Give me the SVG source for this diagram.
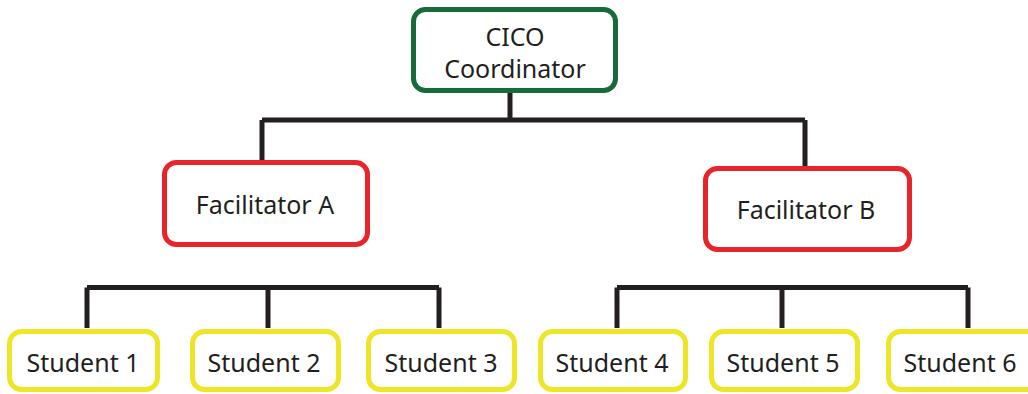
<svg xmlns="http://www.w3.org/2000/svg" width="1028" height="394" viewBox="0 0 1028 394">
<style>
.box{fill:#fff;stroke-width:5}
.g{stroke:#176b3b}
.r{stroke:#e8232a}
.y{stroke:#ede626}
.t{font-family:"Noto Sans","Open Sans",sans-serif;font-size:25px;fill:#231f20;text-anchor:middle}
.c{fill:none;stroke:#231f20;stroke-width:5;stroke-linecap:butt;stroke-linejoin:miter}
</style>
<rect width="1028" height="394" fill="#fff"/>
<g id="connectors" class="c">
<path d="M510 93V120M262 120H805M262 120V161M805 120V167"/>
<path d="M87 287.5H439M87 287.5V328M268 287.5V328M439 287.5V328"/>
<path d="M617 287.5H968M617 287.5V328M782 287.5V328M968 287.5V328"/>
</g>
<g id="coordinator"><rect class="box g" x="413.5" y="9.5" width="202" height="81" rx="12"/><text class="t" x="515" y="46">CICO</text><text class="t" x="515" y="78">Coordinator</text></g>
<g id="facA"><rect class="box r" x="164.5" y="162.5" width="203" height="82" rx="12"/><text class="t" x="265" y="214">Facilitator A</text></g>
<g id="facB"><rect class="box r" x="705.5" y="168.5" width="204" height="81" rx="12"/><text class="t" x="806" y="219">Facilitator B</text></g>
<g id="s1"><rect class="box y" x="9.5" y="331.5" width="148" height="58" rx="12"/><text class="t" x="83" y="372">Student 1</text></g>
<g id="s2"><rect class="box y" x="192.5" y="331.5" width="146" height="58" rx="12"/><text class="t" x="264" y="372">Student 2</text></g>
<g id="s3"><rect class="box y" x="368.5" y="331.5" width="146" height="58" rx="12"/><text class="t" x="441" y="372">Student 3</text></g>
<g id="s4"><rect class="box y" x="540.5" y="331.5" width="145" height="58" rx="12"/><text class="t" x="612" y="372">Student 4</text></g>
<g id="s5"><rect class="box y" x="711.5" y="331.5" width="146" height="58" rx="12"/><text class="t" x="783" y="372">Student 5</text></g>
<g id="s6"><rect class="box y" x="888.5" y="331.5" width="150" height="58" rx="12"/><text class="t" x="960" y="372">Student 6</text></g>
</svg>
